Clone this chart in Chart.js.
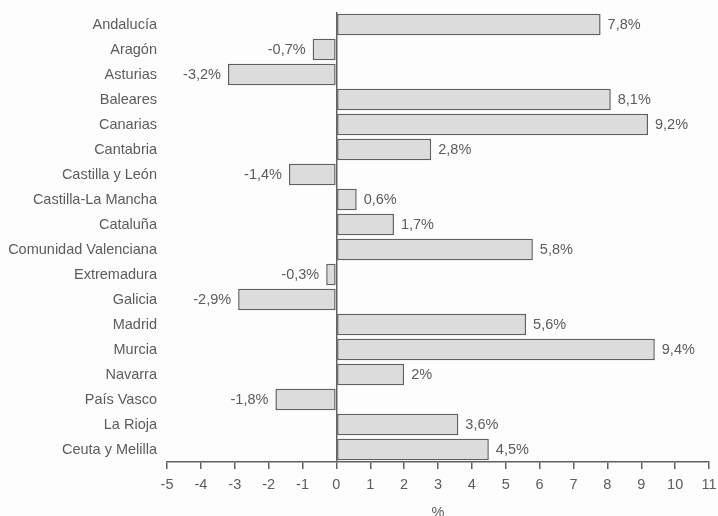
<!DOCTYPE html>
<html>
<head>
<meta charset="utf-8">
<script src="https://cdn.jsdelivr.net/npm/chart.js@4.4.1/dist/chart.umd.min.js"></script>
<style>
  html, body { margin: 0; padding: 0; background: #fdfdfd; }
  #wrap { width: 718px; height: 516px; position: relative; }
</style>
</head>
<body>
<div id="wrap"><canvas id="c" width="718" height="516"></canvas></div>
<script>
// Regions and year-on-year change (%)
const regions = [
  'Andalucía', 'Aragón', 'Asturias', 'Baleares', 'Canarias', 'Cantabria',
  'Castilla y León', 'Castilla-La Mancha', 'Cataluña', 'Comunidad Valenciana',
  'Extremadura', 'Galicia', 'Madrid', 'Murcia', 'Navarra', 'País Vasco',
  'La Rioja', 'Ceuta y Melilla'
];
const changes = [7.8, -0.7, -3.2, 8.1, 9.2, 2.8, -1.4, 0.6, 1.7, 5.8, -0.3, -2.9, 5.6, 9.4, 2, -1.8, 3.6, 4.5];
const axisMin = -5;
const axisMax = 11;
const axisTitle = '%';

const textColor = '#5c5c5c';
const lineColor = '#606060';
const fontFamily = '"Liberation Sans", Arial, Helvetica, sans-serif';
const fontSize = 14.5;

const fmt = v => String(v).replace('.', ',') + '%';

// Writes the value next to the end of each bar
const valueLabels = {
  id: 'valueLabels',
  afterDatasetsDraw(chart) {
    const ctx = chart.ctx;
    const meta = chart.getDatasetMeta(0);
    ctx.save();
    ctx.font = fontSize + 'px ' + fontFamily;
    ctx.fillStyle = textColor;
    ctx.textBaseline = 'middle';
    meta.data.forEach((bar, i) => {
      const v = changes[i];
      if (v >= 0) {
        ctx.textAlign = 'left';
        ctx.fillText(fmt(v), bar.x + 7, bar.y);
      } else {
        ctx.textAlign = 'right';
        ctx.fillText(fmt(v), bar.x - 7, bar.y);
      }
    });
    ctx.restore();
  }
};

new Chart(document.getElementById('c'), {
  type: 'bar',
  data: {
    labels: regions,
    datasets: [{
      data: changes,
      backgroundColor: '#dcdcdc',
      borderColor: lineColor,
      borderWidth: 1.5,
      borderSkipped: false,
      barPercentage: 0.86,
      categoryPercentage: 1
    }]
  },
  options: {
    indexAxis: 'y',
    responsive: false,
    animation: false,
    layout: { padding: { left: 0, right: 9, top: 12, bottom: 0 } },
    plugins: {
      legend: { display: false },
      tooltip: { enabled: false }
    },
    scales: {
      x: {
        min: axisMin,
        max: axisMax,
        afterFit(scale) {
          scale.height = 54;
          scale.paddingLeft = 0;
          scale.paddingRight = 0;
        },
        ticks: {
          stepSize: 1,
          color: textColor,
          font: { family: fontFamily, size: fontSize },
          padding: 7
        },
        grid: {
          drawOnChartArea: true,
          color: c => (c.tick && c.tick.value === 0) ? lineColor : 'rgba(0,0,0,0)',
          lineWidth: 1.5,
          tickColor: lineColor,
          tickLength: 7
        },
        border: { display: true, color: lineColor, width: 1.5 },
        title: {
          display: true,
          text: axisTitle,
          color: textColor,
          font: { family: fontFamily, size: fontSize },
          padding: { top: 0, bottom: -6 }
        }
      },
      y: {
        afterFit(scale) {
          scale.width = 167;
          scale.paddingTop = 0;
          scale.paddingBottom = 0;
        },
        ticks: {
          color: textColor,
          font: { family: fontFamily, size: fontSize },
          padding: 10
        },
        grid: { display: false, drawTicks: false },
        border: { display: false }
      }
    }
  },
  plugins: [valueLabels]
});
</script>
</body>
</html>
